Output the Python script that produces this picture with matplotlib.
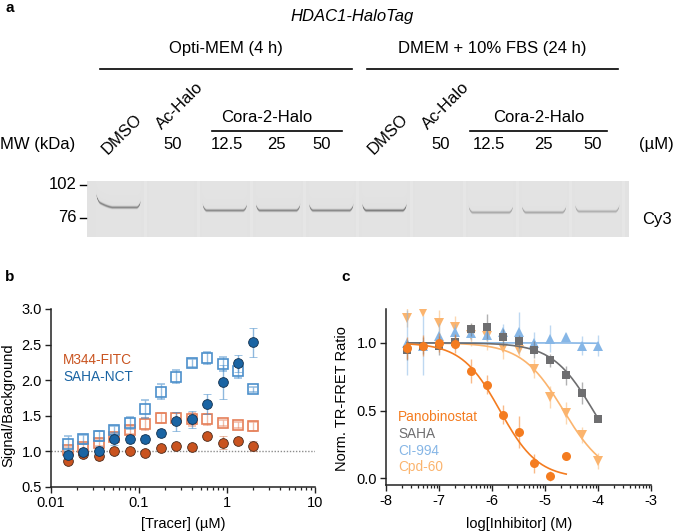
import numpy as np
import matplotlib.pyplot as plt
from matplotlib.lines import Line2D
from matplotlib.ticker import FixedLocator, FuncFormatter

W, H = 675, 532
plt.rcParams['font.family'] = ['Liberation Sans', 'DejaVu Sans']
plt.rcParams['font.size'] = 10

# ---------------- data ----------------
# panel a (gel)
lane_labels = ['DMSO', 'Ac-Halo', '', '', '', 'DMSO', 'Ac-Halo', '', '', '']
conc_labels = ['', '50', '12.5', '25', '50', '', '50', '12.5', '25', '50']
band_strength = [0.70, 0.0, 0.68, 0.70, 0.70, 0.78, 0.0, 0.45, 0.45, 0.40]
band_row = [26, 0, 29, 29, 29, 29, 0, 31, 31, 30]
mw_markers = ['102', '76']

# panel b
tracer_conc = [0.0154, 0.0231, 0.0347, 0.052, 0.078, 0.117, 0.176, 0.263, 0.395, 0.593, 0.889, 1.33, 2.0]
m344_circ = [0.87, 0.96, 0.93, 1.00, 1.01, 0.98, 1.05, 1.07, 1.06, 1.21, 1.12, 1.14, 1.07]
m344_circ_err = [0.03, 0.04, 0.05, 0.03, 0.04, 0.03, 0.03, 0.03, 0.04, 0.04, 0.09, 0.04, 0.07]
m344_sq = [1.02, 1.06, 1.12, 1.20, 1.30, 1.385, 1.465, 1.465, 1.45, 1.45, 1.40, 1.37, 1.35]
m344_sq_err = [0.04, 0.05, 0.05, 0.05, 0.06, 0.08, 0.07, 0.08, 0.09, 0.08, 0.04, 0.04, 0.06]
saha_sq = [1.11, 1.17, 1.215, 1.30, 1.40, 1.595, 1.84, 2.05, 2.24, 2.31, 2.23, 2.13, 1.87]
saha_sq_err = [0.11, 0.06, 0.07, 0.06, 0.08, 0.12, 0.10, 0.09, 0.06, 0.08, 0.10, 0.10, 0.03]
saha_circ = [0.95, 0.99, 1.01, 1.18, 1.17, 1.175, 1.26, 1.42, 1.45, 1.66, 1.98, 2.24, 2.53]
saha_circ_err = [0.05, 0.06, 0.06, 0.09, 0.05, 0.06, 0.06, 0.14, 0.12, 0.14, 0.24, 0.12, 0.20]

# panel c
log_inhib = [-7.6, -7.3, -7.0, -6.7, -6.4, -6.1, -5.8, -5.5, -5.2, -4.9, -4.6, -4.3, -4.0]
pano = [0.96, 0.98, 1.00, 0.995, 0.79, 0.69, 0.47, 0.34, 0.11, 0.017, 0.165]
pano_err = [0.08, 0.08, 0.07, 0.07, 0.09, 0.07, 0.07, 0.12, 0.07, 0.04, 0.0]
saha = [0.946, 0.98, 0.98, 1.007, 1.10, 1.12, 1.04, 1.01, 0.95, 0.87, 0.76, 0.63, 0.44]
saha_err = [0.07, 0.06, 0.07, 0.05, 0.05, 0.09, 0.06, 0.05, 0.06, 0.05, 0.07, 0.08, 0.02]
ci994 = [1.00, 0.98, 1.05, 1.08, 1.07, 1.06, 1.08, 1.08, 1.00, 1.03, 1.04, 0.98, 0.98]
ci994_err = [0.24, 0.22, 0.10, 0.06, 0.05, 0.05, 0.06, 0.15, 0.08, 0.10, 0.03, 0.07, 0.08]
cpd60 = [1.185, 1.23, 1.15, 1.12, 1.06, 1.05, 0.96, 0.95, 0.81, 0.60, 0.48, 0.32, 0.13]
cpd60_err = [0.07, 0.03, 0.09, 0.08, 0.08, 0.10, 0.08, 0.05, 0.07, 0.08, 0.08, 0.06, 0.06]

# fitted 4PL parameters (top=1, bottom=0)
fit_ic50 = [-5.85, -4.09, -1.5, -4.65]
fit_hill = [1.2, 1.12, 1.0, 1.1]
fit_end = [-4.6, -4.0, -4.0, -4.0]

C_ORANGE = '#C9531F'
C_BLUE = '#1A64A3'
C_ORANGE_L = '#E57E57'
C_BLUE_L = '#4B8FCB'
C_PANO = '#F47C20'
C_SAHA = '#6E6E70'
C_CI = '#86B6E6'
C_CPD = '#FBB46E'
FS_A = 12


def px(x, y):
    return x / W, 1 - y / H


def ftext(x, y, s, **kw):
    fig.text(*px(x, y), s, **kw)


def fline(x1, x2, y, lw=1.2):
    a, b = px(x1, y)
    c, _ = px(x2, y)
    fig.add_artist(Line2D([a, c], [b, b], color='black', lw=lw, transform=fig.transFigure))


fig = plt.figure(figsize=(W / 100, H / 100), dpi=100)

# ---------------- panel a ----------------
ftext(5, 8, 'a', fontsize=11, fontweight='bold', va='center')
ftext(352, 17, 'HDAC1-HaloTag', style='italic', ha='center', va='center', fontsize=FS_A)
ftext(226, 48, 'Opti-MEM (4 h)', ha='center', va='center', fontsize=FS_A)
ftext(492, 48, 'DMEM + 10% FBS (24 h)', ha='center', va='center', fontsize=FS_A)
fline(100, 352, 69)
fline(367, 618, 69)
ftext(267, 117, 'Cora-2-Halo', ha='center', va='center', fontsize=FS_A)
ftext(539, 117, 'Cora-2-Halo', ha='center', va='center', fontsize=FS_A)
fline(212, 342, 131)
fline(470, 607, 131)
ftext(0, 145, 'MW (kDa)', ha='left', va='center', fontsize=FS_A)
ftext(656, 145, '(µM)', ha='center', va='center', fontsize=FS_A)

lane_x = [118 + 53.2 * i for i in range(10)]
label_x = [118, 173, 227, 276, 322, 384, 441, 489, 543, 593]
rot_y = {'DMSO': 155, 'Ac-Halo': 130}
rot_dx = {'DMSO': -10, 'Ac-Halo': -9}
for i, (lab, conc) in enumerate(zip(lane_labels, conc_labels)):
    if conc:
        ftext(label_x[i], 145, conc, ha='center', va='center', fontsize=FS_A)
    if lab:
        ax_, ay_ = px(lane_x[i] + rot_dx[lab], rot_y[lab])
        fig.text(ax_, ay_, lab, rotation=45, rotation_mode='anchor', ha='left', va='baseline',
                 fontsize=FS_A)

# gel image
gh, gw = 56, 542
img = np.full((gh, gw), 0.885)
cols = np.arange(gw)
rows = np.arange(gh)[:, None].astype(float)
for i, (s, r) in enumerate(zip(band_strength, band_row)):
    c = lane_x[i] - 87
    u = (cols - c) / 22.5
    inside = np.abs(u) <= 1
    img[:, inside] += 0.008
    sep = np.abs(cols - (c + 26.6)) < 1.5
    img[:, sep] += 0.015
    if s <= 0:
        continue
    au = np.clip(np.abs(u), 0, 1)
    lift = 6 * np.clip((au - 0.8) / 0.2, 0, 1) ** 2
    if i == 0:
        lift = lift + 7 * np.clip((-u - 0.25) / 0.75, 0, 1) ** 1.5
    yc = r - lift
    fade = np.clip((1 - au) / 0.06, 0, 1)
    prof = np.exp(-((rows - yc[None, :]) / 1.3) ** 2)
    # faint tint above the band
    haze = np.clip((rows - (yc[None, :] - 22)) / 22, 0, 1) * (rows < yc[None, :])
    img -= s * 0.5 * prof * (fade * inside)[None, :]
    img -= s * 0.02 * haze * inside[None, :]
img = np.clip(img, 0, 1)

ax_gel = fig.add_axes([87 / W, 1 - 237 / H, 542 / W, 56 / H])
ax_gel.imshow(img, cmap='gray', vmin=0, vmax=1, aspect='auto', interpolation='bicubic',
              extent=[0, gw, gh, 0])
ax_gel.set_axis_off()

for lab, y in zip(mw_markers, [184.7, 217.7]):
    ftext(77, y, lab, ha='right', va='center', fontsize=FS_A)
    fline(80, 86, y, lw=1.0)
ftext(642, 220, 'Cy3', ha='left', va='center', fontsize=FS_A)


def style_axis(ax):
    for sp in ['top', 'right']:
        ax.spines[sp].set_visible(False)
    for sp in ['left', 'bottom']:
        ax.spines[sp].set_linewidth(1.1)
        ax.spines[sp].set_color('#222222')
    ax.tick_params(which='major', direction='out', length=4.5, width=1.0, pad=2, labelsize=10.5,
                   color='#222222')
    ax.tick_params(which='minor', direction='out', length=2.5, width=0.9, color='#222222')


# ---------------- panel b ----------------
ftext(5, 277, 'b', fontsize=11, fontweight='bold', va='center')
axb = fig.add_axes([51 / W, 1 - 487 / H, 264 / W, 178 / H])
axb.set_xscale('log')
axb.axhline(1.0, color='#8c8c8c', ls=(0, (1, 1.2)), lw=1.0, zorder=1)
eb = dict(capsize=3, elinewidth=1.0, capthick=1.0, linestyle='none')
axb.errorbar(tracer_conc, m344_sq, yerr=m344_sq_err, fmt='s', ms=6.5, mfc='none', mec=C_ORANGE_L,
             mew=1.2, ecolor=C_ORANGE_L + '80', zorder=2, **eb)
axb.errorbar(tracer_conc, saha_sq, yerr=saha_sq_err, fmt='s', ms=6.5, mfc='none', mec=C_BLUE_L,
             mew=1.2, ecolor=C_BLUE_L + '90', zorder=3, **eb)
axb.errorbar(tracer_conc, m344_circ, yerr=m344_circ_err, fmt='o', ms=7, mfc=C_ORANGE, mec='#4a2a1a',
             mew=0.6, ecolor=C_ORANGE + '70', zorder=4, **eb)
axb.errorbar(tracer_conc, saha_circ, yerr=saha_circ_err, fmt='o', ms=7, mfc=C_BLUE, mec='#12304d',
             mew=0.6, ecolor=C_BLUE_L + 'a0', zorder=5, **eb)
axb.set_xlim(0.01, 10)
axb.set_ylim(0.5, 3.0)
axb.set_yticks([0.5, 1.0, 1.5, 2.0, 2.5, 3.0])
axb.yaxis.set_major_formatter(FuncFormatter(lambda v, p: f'{v:.1f}'))
axb.xaxis.set_major_formatter(FuncFormatter(lambda v, p: f'{v:g}'))
style_axis(axb)
axb.set_ylabel('Signal/Background', fontsize=10.5)
axb.yaxis.set_label_coords(-0.135, 0.46)
axb.set_xlabel('[Tracer] (µM)', fontsize=10.5)
axb.xaxis.set_label_coords(0.5, -0.17)
ftext(63, 360, 'M344-FITC', color=C_ORANGE, va='center', fontsize=9.8)
ftext(63, 377, 'SAHA-NCT', color=C_BLUE, va='center', fontsize=9.8)

# ---------------- panel c ----------------
ftext(341, 277, 'c', fontsize=11, fontweight='bold', va='center')
axc = fig.add_axes([386 / W, 1 - 485 / H, 265 / W, 176 / H])
series = [
    (cpd60, cpd60_err, 'v', C_CPD, 3),
    (ci994, ci994_err, '^', C_CI, 2),
    (saha, saha_err, 's', C_SAHA, 1),
    (pano, pano_err, 'o', C_PANO, 0),
]
for z, (vals, errs, mk, col, k) in enumerate(series):
    xs = log_inhib[:len(vals)]
    xf = np.linspace(log_inhib[0], fit_end[k], 200)
    yf = 1.0 / (1 + 10 ** (fit_hill[k] * (xf - fit_ic50[k])))
    axc.plot(xf, yf, color=col, lw=1.2, zorder=2 + z * 2)
    axc.errorbar(xs, vals, yerr=errs, fmt=mk, ms=6.5 if mk != 's' else 6.0, mfc=col, mec=col,
                 mew=0, ecolor=col + '88', zorder=3 + z * 2, **eb)
axc.set_xlim(-8, -3)
axc.set_ylim(-0.05, 1.25)
axc.set_xticks([-8, -7, -6, -5, -4, -3])
minors = [d + np.log10(m) for d in range(-8, -3) for m in range(2, 10)]
axc.xaxis.set_minor_locator(FixedLocator(minors))
axc.set_yticks([0.0, 0.5, 1.0])
axc.yaxis.set_major_formatter(FuncFormatter(lambda v, p: f'{v:.1f}'))
axc.xaxis.set_major_formatter(FuncFormatter(lambda v, p: f'{v:g}'))
style_axis(axc)
axc.set_ylabel('Norm. TR-FRET Ratio', fontsize=10.5)
axc.yaxis.set_label_coords(-0.14, 0.49)
axc.set_xlabel('log[Inhibitor] (M)', fontsize=10.5)
axc.xaxis.set_label_coords(0.502, -0.18)
for name, col, y in [('Panobinostat', C_PANO, 417), ('SAHA', C_SAHA, 434),
                     ('CI-994', C_CI, 451), ('Cpd-60', C_CPD, 467)]:
    ftext(398, y, name, color=col, va='center', fontsize=9.8)

fig.savefig('out.png', dpi=100)
